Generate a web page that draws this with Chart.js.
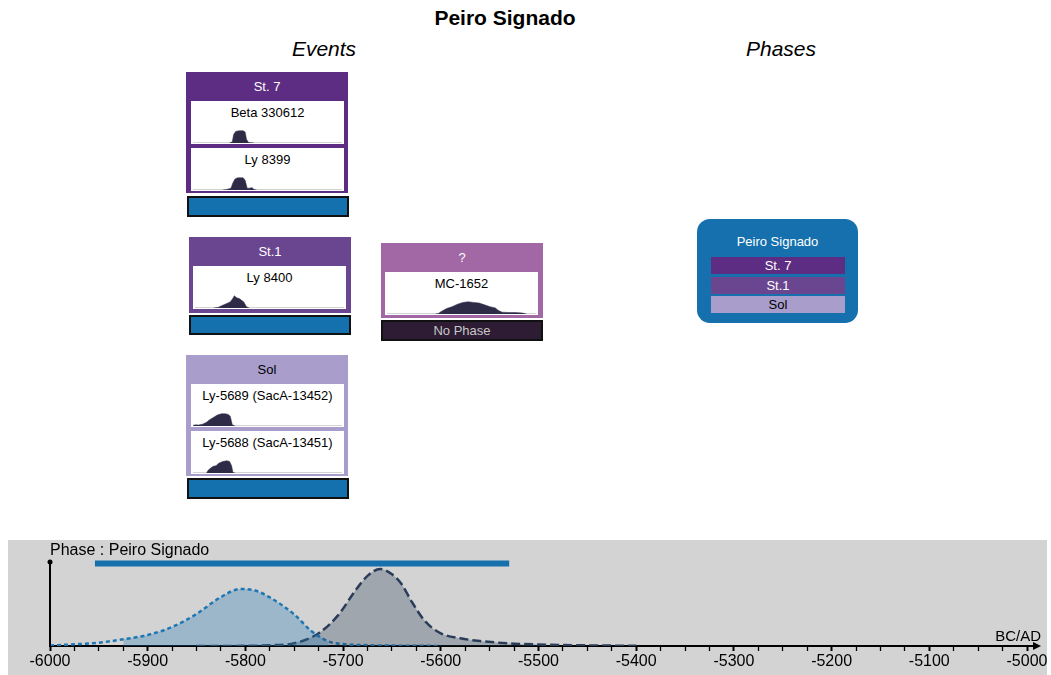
<!DOCTYPE html>
<html>
<head>
<meta charset="utf-8">
<script src="https://cdn.jsdelivr.net/npm/chart.js@4.4.0/dist/chart.umd.min.js"></script>
<style>
  body { margin: 0; width: 1051px; height: 675px; position: relative; overflow: hidden; background: #fff;
         font-family: "Liberation Sans", Arial, sans-serif; }
  .abs { position: absolute; }
  .txt { position: absolute; text-align: center; white-space: nowrap; }
  .group { position: absolute; width: 162px; }
  .group .head { height: 29px; line-height: 29px; text-align: center; font-size: 13px; }
  .ev { position: absolute; background: #fff; }
  .ev .lbl { text-align: center; font-size: 13px; line-height: 16px; padding-top: 4px; color: #000; white-space: nowrap; }
  .ev canvas { position: absolute; left: 2px; bottom: 1px; }
  .bar { position: absolute; box-sizing: border-box; border: 2px solid #111; font-size: 13px; text-align: center; }
  .phasebox { position: absolute; left: 697px; top: 219px; width: 161px; height: 104px; border-radius: 13px; background: #1670ad; }
  .prow { position: absolute; left: 14px; width: 134px; height: 17px; line-height: 17px; text-align: center; font-size: 13px; }
</style>
</head>
<body>
<div class="txt" style="left:355px;top:6px;width:300px;font-size:21px;font-weight:bold;line-height:24px;">Peiro Signado</div>
<div class="txt" style="left:224px;top:37px;width:200px;font-size:21px;font-style:italic;line-height:24px;">Events</div>
<div class="txt" style="left:681px;top:37px;width:200px;font-size:21px;font-style:italic;line-height:24px;">Phases</div>

<div id="groups"></div>

<div class="phasebox" id="phasebox">
  <div class="txt" style="left:0;top:14px;width:161px;font-size:13px;line-height:17px;color:#fff;">Peiro Signado</div>
</div>

<div class="abs" style="left:8px;top:540px;width:1039px;height:135px;background:#d3d3d3;"></div>
<canvas id="main" class="abs" width="1043" height="135" style="left:8px;top:540px;"></canvas>
<div class="txt" style="left:50px;top:540px;font-size:16px;line-height:19px;text-align:left;">Phase : Peiro Signado</div>
<div class="txt" style="left:941px;top:627px;width:100px;font-size:15px;line-height:18px;text-align:right;">BC/AD</div>

<script>
// ---- data ----
const groupNames = ['St. 7', 'St.1', '?', 'Sol'];
const groupEvents = [['Beta 330612', 'Ly 8399'], ['Ly 8400'], ['MC-1652'], ['Ly-5689 (SacA-13452)', 'Ly-5688 (SacA-13451)']];
const phaseName = 'Peiro Signado';
const phaseMembers = ['St. 7', 'St.1', 'Sol'];

// thumbnails of each date (years BC/AD, relative density)
const beta330612Years = [-5830, -5810, -5800, -5785, -5760, -5730, -5715, -5705, -5690, -5670, -5650];
const beta330612Dens  = [0, 0.1, 0.7, 0.95, 1.0, 1.0, 0.9, 0.3, 0.05, 0.02, 0];
const ly8399Years = [-5880, -5850, -5820, -5805, -5790, -5770, -5730, -5715, -5700, -5680, -5665, -5650, -5630];
const ly8399Dens  = [0, 0.05, 0.15, 0.6, 0.9, 1.0, 1.0, 0.8, 0.15, 0.15, 0.2, 0.05, 0];
const ly8400Years = [-5960, -5930, -5900, -5870, -5840, -5820, -5810, -5795, -5770, -5740, -5720, -5700];
const ly8400Dens  = [0, 0.05, 0.2, 0.35, 0.5, 0.8, 1.0, 0.85, 0.75, 0.5, 0.1, 0];
const mc1652Years = [-5740, -5720, -5700, -5660, -5620, -5580, -5540, -5500, -5460, -5420, -5380, -5340, -5300, -5280, -5250, -5200, -5150, -5100, -5070];
const mc1652Dens  = [0, 0.05, 0.2, 0.45, 0.6, 0.8, 0.95, 1.0, 0.95, 0.9, 0.75, 0.6, 0.5, 0.3, 0.15, 0.12, 0.12, 0.08, 0];
const ly5689Years = [-6100, -6080, -6060, -6030, -6000, -5980, -5950, -5920, -5890, -5860, -5840, -5825, -5810, -5790];
const ly5689Dens  = [0.05, 0.1, 0.08, 0.15, 0.3, 0.5, 0.7, 0.9, 1.0, 1.0, 0.95, 0.8, 0.1, 0];
const ly5688Years = [-6000, -5990, -5970, -5950, -5930, -5910, -5880, -5850, -5830, -5815, -5805, -5790];
const ly5688Dens  = [0, 0.2, 0.4, 0.55, 0.6, 0.8, 0.95, 1.0, 0.95, 0.6, 0.05, 0];
const thumbYears = [beta330612Years, ly8399Years, ly8400Years, mc1652Years, ly5689Years, ly5688Years];
const thumbDens  = [beta330612Dens, ly8399Dens, ly8400Dens, mc1652Dens, ly5689Dens, ly5688Dens];

// bottom plot: begin and end of the phase
const beginYears = [-6000, -5975, -5950, -5925, -5900, -5875, -5850, -5825, -5805, -5790, -5775, -5750, -5733, -5715, -5700, -5675, -5650, -5600];
const beginDens  = [0.006, 0.022, 0.043, 0.087, 0.143, 0.247, 0.416, 0.636, 0.74, 0.72, 0.63, 0.41, 0.2, 0.06, 0.025, 0.01, 0.005, 0.001];
const endYears = [-5850, -5800, -5775, -5750, -5725, -5705, -5688, -5675, -5662, -5650, -5640, -5630, -5616, -5600, -5580, -5560, -5525, -5500, -5450, -5400];
const endDens  = [0.001, 0.002, 0.01, 0.035, 0.165, 0.40, 0.71, 0.91, 1.0, 0.93, 0.8, 0.58, 0.32, 0.165, 0.10, 0.065, 0.03, 0.02, 0.008, 0.003];
const beginHpd = [-5925, -5715];
const endHpd = [-5750, -5500];
const phaseRange = [-5954, -5530];

// ---- layout of the boxes (pixels) ----
const groupLayout = [
  { left: 186, top: 72,  h: 121, inset: 5, bg: '#5c2d82', fg: '#fff', barLeft: 187, barTop: 196, barH: 21 },
  { left: 189, top: 237, h: 76,  inset: 4, bg: '#6b4690', fg: '#fff', barLeft: 189, barTop: 315, barH: 20 },
  { left: 381, top: 243, h: 75,  inset: 4, bg: '#a168a5', fg: '#fff', barLeft: 381, barTop: 320, barH: 21, noPhase: true },
  { left: 186, top: 355, h: 121, inset: 5, bg: '#a89dcb', fg: '#000', barLeft: 187, barTop: 478, barH: 21 }
];
const groupColor = { 'St. 7': '#5c2d82', 'St.1': '#6b4690', 'Sol': '#a89dcb' };

const baseline = {
  id: 'baseline',
  beforeDatasetsDraw(chart) {
    const { ctx, chartArea } = chart;
    ctx.save();
    ctx.strokeStyle = '#c4c4c4';
    ctx.lineWidth = 1.5;
    ctx.beginPath();
    ctx.moveTo(chartArea.left, chartArea.bottom);
    ctx.lineTo(chartArea.right, chartArea.bottom);
    ctx.stroke();
    ctx.restore();
  }
};

function pts(xs, ys) { return xs.map((x, i) => ({ x: x, y: ys[i] })); }

const holder = document.getElementById('groups');
let k = 0;
groupNames.forEach((name, g) => {
  const L = groupLayout[g];
  const box = document.createElement('div');
  box.className = 'group';
  box.style.cssText = `left:${L.left}px;top:${L.top}px;height:${L.h}px;background:${L.bg};`;
  box.innerHTML = `<div class="head" style="color:${L.fg}">${name}</div>`;
  holder.appendChild(box);
  groupEvents[g].forEach((ev, i) => {
    const e = document.createElement('div');
    e.className = 'ev';
    e.style.cssText = `left:${L.inset}px;top:${29 + i * 47}px;width:153px;height:43px;`;
    e.innerHTML = `<div class="lbl">${ev}</div>`;
    const c = document.createElement('canvas');
    c.width = 149; c.height = 22;
    e.appendChild(c);
    box.appendChild(e);
    new Chart(c, {
      type: 'line',
      data: { datasets: [{ data: pts(thumbYears[k], thumbDens[k]), fill: 'origin', backgroundColor: '#2e2b47',
        borderColor: '#2e2b47', borderWidth: 0.5, pointRadius: 0, tension: 0 }] },
      options: {
        responsive: false, animation: false, layout: { padding: 0 },
        plugins: { legend: { display: false }, tooltip: { enabled: false } },
        scales: { x: { type: 'linear', min: -6100, max: -5000, display: false },
                  y: { min: 0, max: 1.8, display: false } }
      },
      plugins: [baseline]
    });
    k++;
  });
  const bar = document.createElement('div');
  bar.className = 'bar';
  bar.style.cssText = `left:${L.barLeft}px;top:${L.barTop}px;width:162px;height:${L.barH}px;line-height:${L.barH - 4}px;` +
    (L.noPhase ? 'background:#2d1c33;color:#c8c8c8;' : 'background:#1570ae;');
  bar.textContent = L.noPhase ? 'No Phase' : '';
  holder.appendChild(bar);
});

const pbox = document.getElementById('phasebox');
const rowTops = [38, 58, 77];
phaseMembers.forEach((m, i) => {
  const r = document.createElement('div');
  r.className = 'prow';
  r.style.cssText = `top:${rowTops[i]}px;background:${groupColor[m]};color:${m === 'Sol' ? '#000' : '#fff'};`;
  r.textContent = m;
  pbox.appendChild(r);
});

// ---- bottom density plot ----
const axes = {
  id: 'axes',
  afterDraw(chart) {
    const { ctx, chartArea } = chart;
    ctx.save();
    ctx.strokeStyle = '#000';
    ctx.fillStyle = '#000';
    ctx.lineWidth = 2;
    ctx.beginPath();
    ctx.moveTo(chartArea.left, chartArea.bottom);
    ctx.lineTo(chartArea.left, chartArea.top);
    ctx.moveTo(chartArea.right, chartArea.bottom);
    ctx.lineTo(chartArea.right + 8, chartArea.bottom);
    ctx.stroke();
    ctx.beginPath();
    ctx.arc(chartArea.left, chartArea.top, 2.5, 0, Math.PI * 2);
    ctx.fill();
    ctx.beginPath();
    ctx.moveTo(chartArea.right + 14, chartArea.bottom);
    ctx.lineTo(chartArea.right + 6, chartArea.bottom - 4);
    ctx.lineTo(chartArea.right + 6, chartArea.bottom + 4);
    ctx.closePath();
    ctx.fill();
    ctx.restore();
  }
};

const inRange = (xs, ys, r) => pts(xs, ys).filter(p => p.x >= r[0] && p.x <= r[1]);

new Chart(document.getElementById('main'), {
  type: 'line',
  data: {
    datasets: [
      { data: inRange(beginYears, beginDens, beginHpd), fill: 'origin', backgroundColor: 'rgba(31,119,180,0.3)',
        borderWidth: 0, pointRadius: 0, cubicInterpolationMode: 'monotone' },
      { data: inRange(endYears, endDens, endHpd), fill: 'origin', backgroundColor: 'rgba(44,62,90,0.3)',
        borderWidth: 0, pointRadius: 0, cubicInterpolationMode: 'monotone' },
      { data: pts(beginYears, beginDens), borderColor: '#1f77b4', borderWidth: 2.5, borderDash: [4, 3],
        pointRadius: 0, fill: false, cubicInterpolationMode: 'monotone' },
      { data: pts(endYears, endDens), borderColor: '#2b3d58', borderWidth: 2.5, borderDash: [9, 4],
        pointRadius: 0, fill: false, cubicInterpolationMode: 'monotone' },
      { data: phaseRange.map(x => ({ x: x, y: 1.07 })), borderColor: '#1670ad', borderWidth: 6,
        pointRadius: 0, fill: false, clip: false, borderCapStyle: 'butt' }
    ]
  },
  options: {
    responsive: false, animation: false,
    layout: { padding: { left: 42, right: 24, top: 22, bottom: 0 } },
    plugins: { legend: { display: false }, tooltip: { enabled: false } },
    scales: {
      x: {
        type: 'linear', min: -6000, max: -5000,
        ticks: { stepSize: 25, autoSkip: false, maxRotation: 0, color: '#000', padding: 1,
                 font: { family: '"Liberation Sans", Arial, sans-serif', size: 16 },
                 callback: v => (Math.round(v) % 100 === 0 ? String(Math.round(v)) : '') },
        grid: { drawOnChartArea: false, drawTicks: true, tickLength: 5, tickColor: '#000',
                tickWidth: c => (c.tick && Math.round(c.tick.value) % 100 === 0 ? 2 : 1.3) },
        border: { display: true, color: '#000', width: 2 },
        afterFit: s => { s.height = 29; }
      },
      y: { min: 0, max: 1.09, display: false }
    }
  },
  plugins: [axes]
});
</script>
</body>
</html>
